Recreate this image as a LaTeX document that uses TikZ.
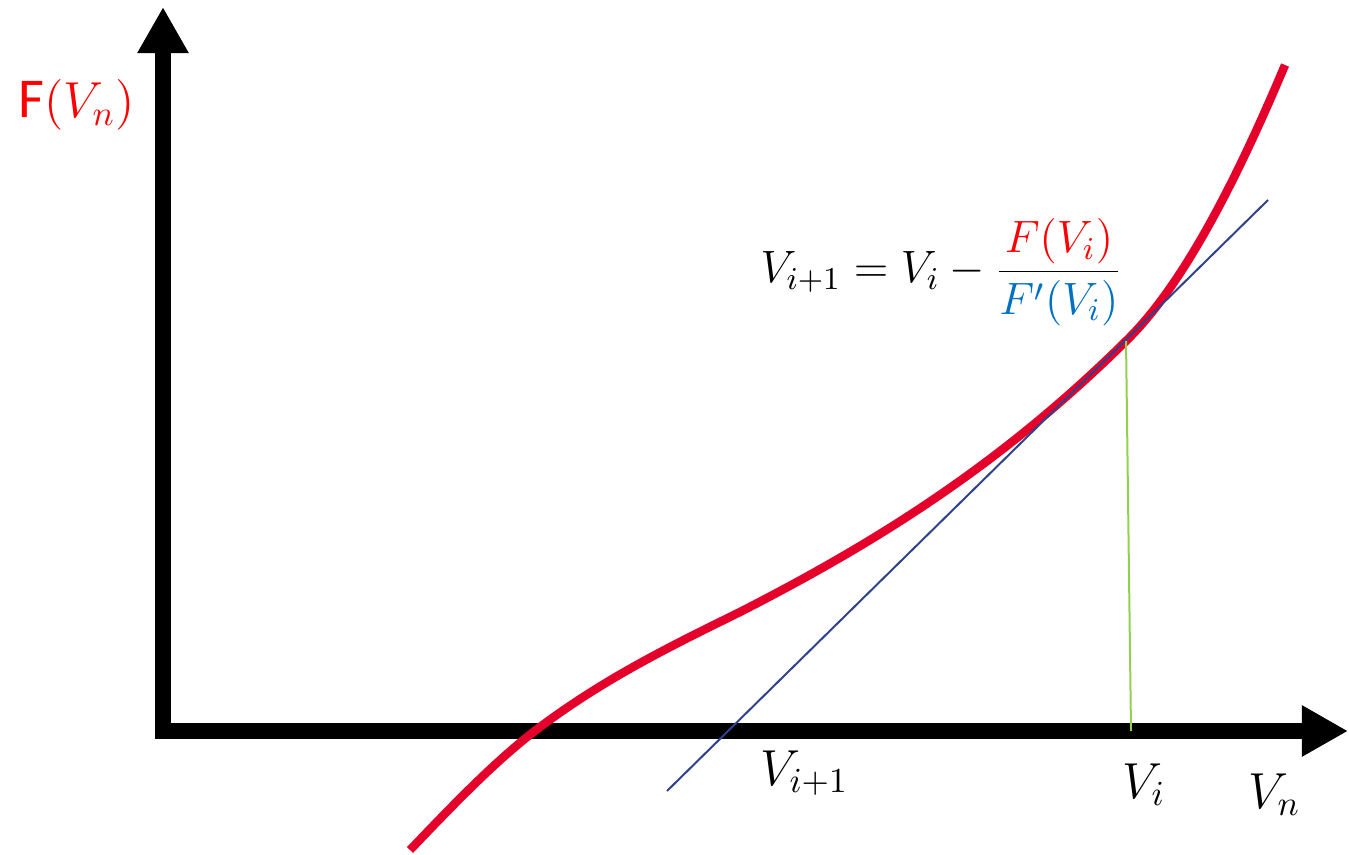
\RequirePackage{fix-cm}
\documentclass[tikz,border=0pt]{standalone}
\usepackage{fontspec}
\newfontfamily\calibri{Carlito}
\usetikzlibrary{arrows.meta}
\definecolor{curvered}{RGB}{228,0,43}
\definecolor{tangentblue}{RGB}{47,66,140}
\definecolor{guidegreen}{RGB}{146,208,80}
\definecolor{denblue}{RGB}{0,112,192}
\tikzset{
  axis/.style={line width=0.16cm, draw=black, -{Triangle[length=0.46cm,width=0.48cm]}},
  fcurve/.style={line width=0.085cm, draw=curvered, line cap=butt},
  tangent/.style={line width=0.02cm, draw=tangentblue},
  guide/.style={line width=0.02cm, draw=guidegreen},
  lbl/.style={inner sep=0pt, font=\fontsize{14.4}{17}\selectfont},
}
\begin{document}
\begin{tikzpicture}[x=0.01cm, y=-0.01cm]
\useasboundingbox (0,0) rectangle (1349,855);
% axes
\coordinate (origin) at (163,739);
\coordinate (ytip) at (163,7);
\coordinate (xstart) at (155,731);
\coordinate (xtip) at (1348,731);
\draw[axis] (origin) -- (ytip);
\draw[axis] (xstart) -- (xtip);
% curve
\coordinate (p0) at (410,850);
\coordinate (p1) at (540,727);
\coordinate (p2) at (740,612);
\coordinate (p3) at (1127,340);
\coordinate (p4) at (1285,65);
\draw[fcurve] (p0) .. controls (453,805) and (497,759) .. (p1)
  .. controls (607,677) and (673,645) .. (p2)
  .. controls (869,546) and (998,468) .. (p3)
  .. controls (1180,288) and (1232,191) .. (p4);
% tangent
\coordinate (tA) at (667,791);
\coordinate (tB) at (1268,200);
\draw[tangent] (tA) -- (tB);
% guide
\coordinate (gTop) at (1126,341);
\coordinate (gBot) at (1131,731);
\draw[guide] (gTop) -- (gBot);
% labels
\node[lbl, anchor=base west, text=red] (ylabel) at (18,118) {{\calibri\fontsize{16}{18}\selectfont F}$(V_n)$};
\node[lbl, anchor=base west, font=\fontsize{12.9}{15}\selectfont] (formula) at (760,283) {$\displaystyle V_{i+1} = V_i - \frac{\color{red}F(V_i)}{\color{denblue}F'(V_i)}$};
\node[lbl, anchor=base west] (vi1) at (760,785) {$V_{i+1}$};
\node[lbl, anchor=base west] (vi) at (1122,798) {$V_i$};
\node[lbl, anchor=base west] (vn) at (1248,808) {$V_n$};
\end{tikzpicture}
\end{document}
